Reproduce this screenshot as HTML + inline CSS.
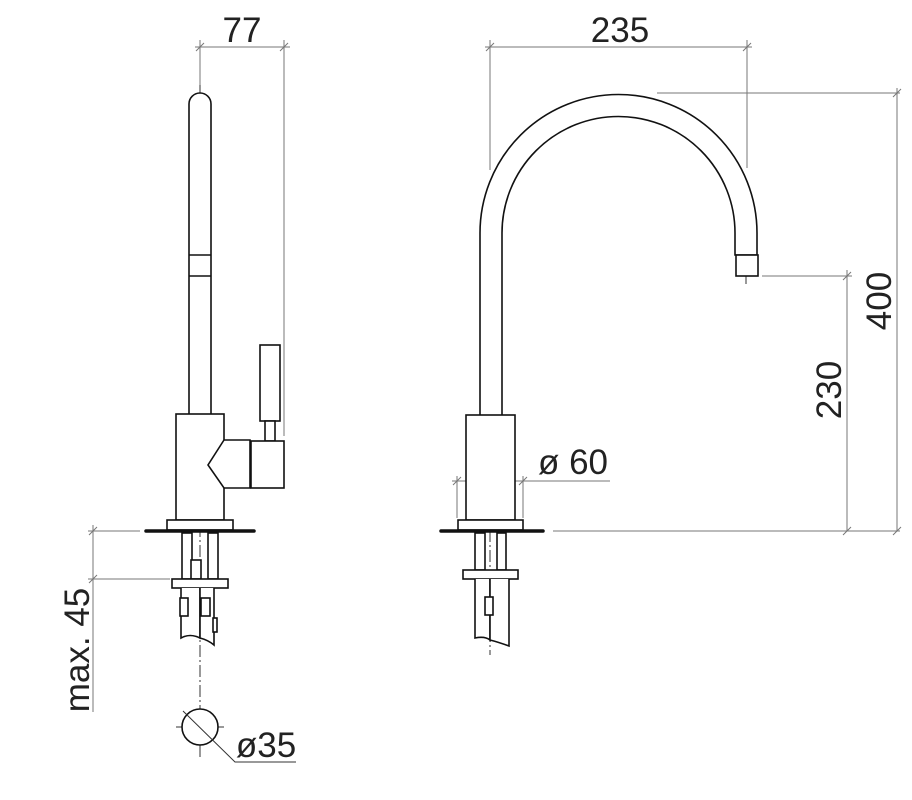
<!DOCTYPE html>
<html><head><style>body{margin:0;background:#fff}svg{display:block}text{font-family:"Liberation Sans",sans-serif;fill:#222}</style></head><body>
<svg width="912" height="800" viewBox="0 0 912 800" xmlns="http://www.w3.org/2000/svg">
<g fill="none" stroke="#777" stroke-width="1">
<line x1="195" y1="47" x2="290" y2="47"/>
<line x1="200" y1="40" x2="200" y2="92"/>
<line x1="284" y1="40" x2="284" y2="436"/>
<line x1="196" y1="51" x2="204" y2="43"/><line x1="280" y1="51" x2="288" y2="43"/>
<line x1="88" y1="531" x2="140" y2="531"/>
<line x1="88" y1="579" x2="170" y2="579"/>
<line x1="93" y1="525" x2="93" y2="712"/>
<line x1="89" y1="535" x2="97" y2="527"/><line x1="89" y1="583" x2="97" y2="575"/>
<line x1="485" y1="47" x2="752" y2="47"/>
<line x1="490" y1="40" x2="490" y2="170"/>
<line x1="747" y1="40" x2="747" y2="168"/>
<line x1="486" y1="51" x2="494" y2="43"/><line x1="743" y1="51" x2="751" y2="43"/>
<line x1="657" y1="93" x2="900" y2="93"/>
<line x1="897" y1="88" x2="897" y2="531"/>
<line x1="893" y1="97" x2="901" y2="89"/><line x1="893" y1="535" x2="901" y2="527"/>
<line x1="762" y1="276" x2="852" y2="276"/>
<line x1="847" y1="270" x2="847" y2="531"/>
<line x1="843" y1="280" x2="851" y2="272"/><line x1="843" y1="535" x2="851" y2="527"/>
<line x1="553" y1="531" x2="900" y2="531"/>
<line x1="452" y1="481" x2="610" y2="481"/>
<line x1="457" y1="476" x2="457" y2="518"/>
<line x1="523" y1="476" x2="523" y2="518"/>
<line x1="453" y1="485" x2="461" y2="477"/><line x1="519" y1="485" x2="527" y2="477"/>
</g>
<g stroke="#333" stroke-width="1" stroke-dasharray="12,3,2,3" fill="none">
<line x1="200" y1="85" x2="200" y2="760"/>
<line x1="490" y1="210" x2="490" y2="655"/>
<line x1="746" y1="232" x2="746" y2="286"/>
<line x1="176" y1="727" x2="224" y2="727"/>
</g>
<g fill="#fff" stroke="#111" stroke-width="1.6">
<path d="M189 414 V104 A11 11 0 0 1 211 104 V414"/>
<line x1="189" y1="255" x2="211" y2="255"/><line x1="189" y1="276" x2="211" y2="276"/>
<rect x="260" y="345" width="20" height="76"/>
<rect x="265" y="421" width="10" height="20"/>
<rect x="176" y="414" width="48" height="106"/>
<path d="M224 440 H250 V488 H224 L208 465 Z"/>
<rect x="251" y="441" width="33" height="47"/>
<rect x="167" y="520" width="66" height="10"/>
<rect x="182" y="533" width="10" height="46"/><rect x="208" y="533" width="10" height="46"/>
<rect x="191" y="560" width="10" height="19"/>
<rect x="172" y="579" width="56" height="9"/>
<path d="M181 588 V638 Q190 633 200 638 V588"/>
<path d="M200 588 V638 Q208 640 214 645 V588"/>
<rect x="180" y="598" width="8" height="18"/><rect x="201" y="598" width="9" height="18"/>
<rect x="213" y="618" width="4" height="14"/>
<circle cx="200" cy="727" r="18"/>
<path d="M480 415 V233 A138 138 0 0 1 757 233 V255 H735 V233 A116 116 0 0 0 502 233 V415"/>
<rect x="736" y="255" width="22" height="21"/>
<rect x="466" y="415" width="49" height="105"/>
<rect x="458" y="520" width="65" height="10"/>
<rect x="475" y="533" width="10" height="37"/><rect x="497" y="533" width="9" height="37"/>
<rect x="463" y="570" width="55" height="9"/>
<path d="M475 579 V638 Q485 636 490 640 V579"/>
<path d="M490 579 V640 Q498 642 509 646 V579"/>
<rect x="485" y="597" width="8" height="18"/>
</g>
<g stroke="#111" stroke-width="3.5" stroke-linecap="round">
<line x1="146" y1="531" x2="254" y2="531"/>
<line x1="441" y1="531" x2="543" y2="531"/>
</g>
<g stroke="#333" stroke-width="1" fill="none">
<polyline points="183,711 235,762 296,762"/>
</g>
<text x="242" y="42" font-size="35" text-anchor="middle">77</text>
<text x="620" y="42" font-size="35" text-anchor="middle">235</text>
<text x="573" y="474" font-size="35" text-anchor="middle">ø 60</text>
<text x="266" y="757" font-size="35" text-anchor="middle">ø35</text>
<text transform="translate(891,301) rotate(-90)" font-size="35" text-anchor="middle">400</text>
<text transform="translate(841,390) rotate(-90)" font-size="35" text-anchor="middle">230</text>
<text transform="translate(89,650) rotate(-90)" font-size="35" text-anchor="middle">max. 45</text>
</svg>
</body></html>
